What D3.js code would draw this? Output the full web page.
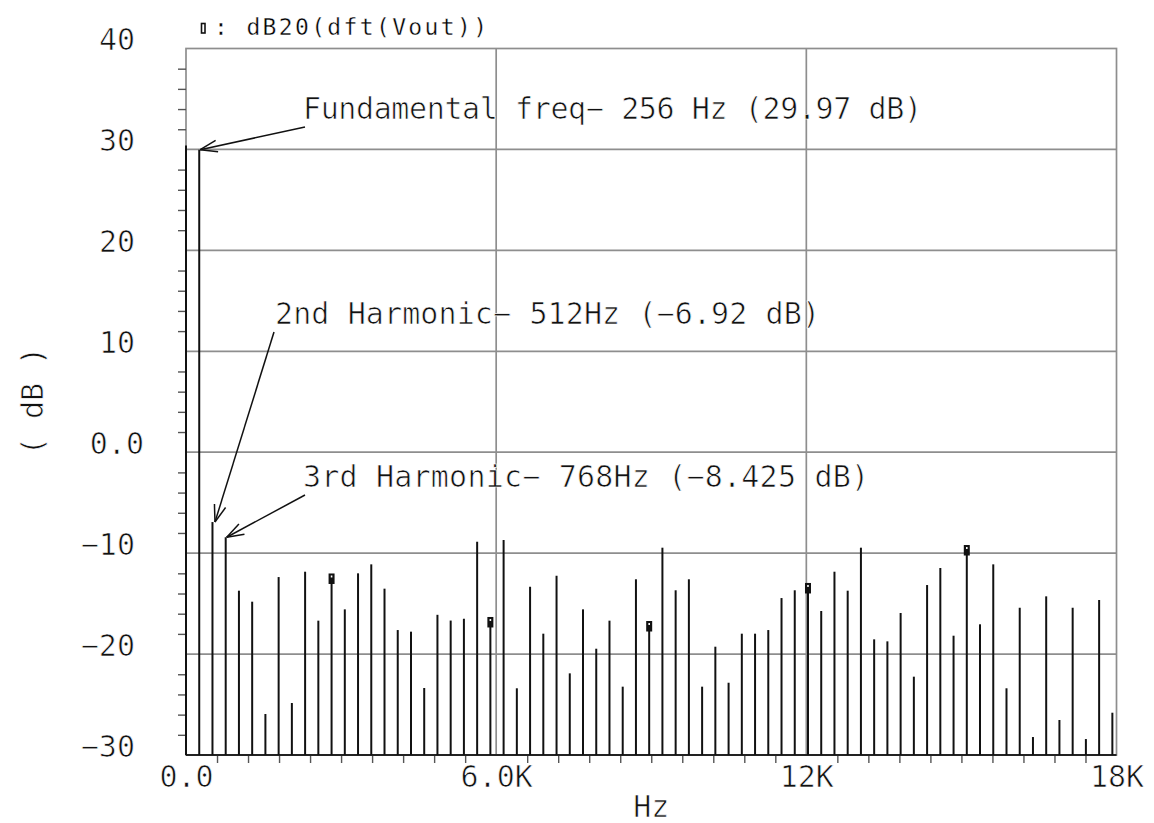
<!DOCTYPE html>
<html>
<head>
<meta charset="utf-8">
<script src="https://cdnjs.cloudflare.com/ajax/libs/d3/7.8.5/d3.min.js"></script>
<style>
  body { margin: 0; background: #fff; }
  svg { display: block; }
  text { font-family: "DejaVu Sans Mono", monospace; fill: #111; stroke: #fff; stroke-width: 0.7px; }
  text.legend { fill: #000; stroke-width: 0.35px; }
</style>
</head>
<body>
<div id="chart"></div>
<script>
// * STEP 1: Data
//==============================================

// spacing of the DFT bins (Hz)
var binStep = 256;

// magnitude of every bin, dB20(dft(Vout)), bin 0 .. bin 70
var magnitudes = [
  30.4, 29.97, -6.92, -8.425, -13.72, -14.81, -25.94, -12.37, -24.85, -11.84,
  -16.69, -12.51, -15.57, -12.0, -11.11, -13.52, -17.62, -17.78, -23.36, -16.11,
  -16.68, -16.5, -8.87, -16.82, -8.7, -23.39, -13.33, -17.98, -12.24, -21.91,
  -15.57, -19.47, -16.69, -23.23, -12.59, -17.22, -9.46, -13.68, -12.59, -23.23,
  -19.27, -22.84, -17.98, -17.98, -17.62, -14.45, -13.68, -13.45, -15.73, -11.84,
  -13.72, -9.46, -18.54, -18.74, -15.93, -22.24, -13.16, -11.47, -18.18, -9.69,
  -17.05, -11.11, -23.39, -15.41, -28.22, -14.28, -26.53, -15.41, -28.42, -14.64,
  -25.81
];

// bins that carry a trace marker
var markerBins = [11, 23, 35, 47, 59];

// axis ticks
var yTicks = [-30, -20, -10, 0, 10, 20, 30, 40];
var yTickLabels = ["\u221230", "\u221220", "\u221210", "0.0", "10", "20", "30", "40"];
var xTicks = [0, 6000, 12000, 18000];
var xTickLabels = ["0.0", "6.0K", "12K", "18K"];

// annotations
var noteBins = [1, 2, 3];
var noteTexts = [
  "Fundamental freq\u2212 256 Hz (29.97 dB)",
  "2nd Harmonic\u2212 512Hz (\u22126.92 dB)",
  "3rd Harmonic\u2212 768Hz (\u22128.425 dB)"
];

var traceName = "dB20(dft(Vout))";

// * STEP 2: Work area
//==============================================
var svgWidth = 1154;
var svgHeight = 823;

var chartMargin = { top: 48.5, right: 37.5, bottom: 68, left: 186 };
var chartWidth = svgWidth - chartMargin.left - chartMargin.right;
var chartHeight = svgHeight - chartMargin.top - chartMargin.bottom;

var svg = d3.select("#chart")
    .append("svg")
    .attr("width", svgWidth)
    .attr("height", svgHeight);

var chartGroup = svg.append("g")
    .attr("transform", `translate(${chartMargin.left}, ${chartMargin.top})`);

// * STEP 3: Scales
//==============================================
var data = magnitudes.map((m, i) => ({ freq: i * binStep, db: m, bin: i }));

var xScale = d3.scaleLinear()
    .domain([0, 18000])
    .range([0, chartWidth]);

var yScale = d3.scaleLinear()
    .domain([-30, 40])
    .range([chartHeight, 0]);

var gridColor = "#8e8e8e";

// grid lines
chartGroup.append("g")
    .selectAll("line")
    .data(yTicks.slice(1, -1))
    .enter()
    .append("line")
    .attr("x1", 0)
    .attr("x2", chartWidth)
    .attr("y1", d => yScale(d))
    .attr("y2", d => yScale(d))
    .attr("stroke", gridColor)
    .attr("stroke-width", 1.7);

chartGroup.append("g")
    .selectAll("line")
    .data(xTicks.slice(1, -1))
    .enter()
    .append("line")
    .attr("x1", d => xScale(d))
    .attr("x2", d => xScale(d))
    .attr("y1", 0)
    .attr("y2", chartHeight)
    .attr("stroke", gridColor)
    .attr("stroke-width", 1.7);

// frame
chartGroup.append("rect")
    .attr("width", chartWidth)
    .attr("height", chartHeight)
    .attr("fill", "none")
    .attr("stroke", gridColor)
    .attr("stroke-width", 1.7);

// minor ticks (every 2 dB / 600 Hz, skipping the grid values)
var minorY = d3.range(-30, 40.01, 2).filter(d => d % 10 !== 0);
var minorX = d3.range(0, 18000.1, 600).filter(d => d % 6000 !== 0);

var leftMinor = chartGroup.append("g")
    .call(d3.axisLeft(yScale).tickValues(minorY).tickSize(8).tickFormat(""));
leftMinor.select(".domain").remove();
leftMinor.selectAll("line").attr("stroke", "#555").attr("stroke-width", 1.4);

var bottomMinor = chartGroup.append("g")
    .attr("transform", `translate(0, ${chartHeight})`)
    .call(d3.axisBottom(xScale).tickValues(minorX).tickSize(8).tickFormat(""));
bottomMinor.select(".domain").remove();
bottomMinor.selectAll("line").attr("stroke", "#555").attr("stroke-width", 1.4);

// bottom axis line
chartGroup.append("line")
    .attr("x1", 0)
    .attr("x2", chartWidth)
    .attr("y1", chartHeight)
    .attr("y2", chartHeight)
    .attr("stroke", "#222")
    .attr("stroke-width", 2);

// * STEP 4: The spectrum
//==============================================
chartGroup.append("g")
    .selectAll("line")
    .data(data)
    .enter()
    .append("line")
    .attr("x1", d => xScale(d.freq))
    .attr("x2", d => xScale(d.freq))
    .attr("y1", chartHeight)
    .attr("y2", d => yScale(d.db))
    .attr("stroke", "#111")
    .attr("stroke-width", 2);

// markers
var markers = chartGroup.append("g")
    .selectAll("g")
    .data(data.filter(d => markerBins.includes(d.bin)))
    .enter()
    .append("g")
    .attr("transform", d => `translate(${xScale(d.freq)}, ${yScale(d.db)})`);

markers.append("rect")
    .attr("x", -3)
    .attr("y", -5)
    .attr("width", 6)
    .attr("height", 10.5)
    .attr("fill", "#111");

markers.append("rect")
    .attr("x", -0.8)
    .attr("y", -3)
    .attr("width", 1.6)
    .attr("height", 2)
    .attr("fill", "#fff");

// * STEP 5: Axis labels
//==============================================
var leftLabels = chartGroup.append("g")
    .call(d3.axisLeft(yScale).tickValues(yTicks).tickSize(0).tickPadding(51)
        .tickFormat((d, i) => yTickLabels[i]));
leftLabels.select(".domain").remove();
leftLabels.selectAll("text")
    .attr("font-family", null)
    .attr("font-size", 30)
    .attr("fill", null)
    .attr("dy", 1)
    .attr("dx", d => d === 0 ? 9 : 0);

var bottomLabels = chartGroup.append("g")
    .attr("transform", `translate(0, ${chartHeight})`)
    .call(d3.axisBottom(xScale).tickValues(xTicks).tickSize(0)
        .tickFormat((d, i) => xTickLabels[i]));
bottomLabels.select(".domain").remove();
bottomLabels.selectAll("text")
    .attr("font-family", null)
    .attr("font-size", 30)
    .attr("fill", null)
    .attr("y", 32)
    .attr("dy", 0);

// x title
svg.append("text")
    .attr("x", chartMargin.left + chartWidth / 2)
    .attr("y", 817)
    .attr("text-anchor", "middle")
    .attr("font-size", 30)
    .text("Hz");

// y title
svg.append("text")
    .attr("transform", "translate(43, 401) rotate(-90)")
    .attr("text-anchor", "middle")
    .attr("font-size", 30)
    .text("( dB )");

// trace legend
svg.append("rect")
    .attr("x", 201.5)
    .attr("y", 23.5)
    .attr("width", 3.5)
    .attr("height", 9.5)
    .attr("fill", "#fff")
    .attr("stroke", "#111")
    .attr("stroke-width", 1.6);

svg.append("text")
    .attr("class", "legend")
    .attr("x", 214)
    .attr("y", 35)
    .attr("font-size", 23)
    .attr("textLength", 273)
    .attr("lengthAdjust", "spacing")
    .text(": " + traceName);

// * STEP 6: Annotations
//==============================================
// text anchor (left, baseline), text width, arrow start, tip nudge
var notePos = [
  { x: 303, y: 118.5, len: 619, sx: 305, sy: 127, tdx: 1, tdy: 0 },
  { x: 275, y: 323.5, len: 545, sx: 274, sy: 332, tdx: 2.5, tdy: 0 },
  { x: 303, y: 487, len: 566, sx: 305, sy: 495, tdx: 1, tdy: 0 }
];

noteBins.forEach((b, i) => {
    var p = notePos[i];
    var tipX = chartMargin.left + xScale(b * binStep) + p.tdx;
    var tipY = chartMargin.top + yScale(magnitudes[b]) + p.tdy;

    svg.append("text")
        .attr("x", p.x)
        .attr("y", p.y)
        .attr("font-size", 30)
        .attr("textLength", p.len)
        .attr("lengthAdjust", "spacing")
        .text(noteTexts[i]);

    svg.append("line")
        .attr("x1", p.sx)
        .attr("y1", p.sy)
        .attr("x2", tipX)
        .attr("y2", tipY)
        .attr("stroke", "#111")
        .attr("stroke-width", 1.5);

    // open arrow head
    var ang = Math.atan2(p.sy - tipY, p.sx - tipX);
    [-0.33, 0.33].forEach(a => {
        svg.append("line")
            .attr("x1", tipX)
            .attr("y1", tipY)
            .attr("x2", tipX + 18 * Math.cos(ang + a))
            .attr("y2", tipY + 18 * Math.sin(ang + a))
            .attr("stroke", "#111")
            .attr("stroke-width", 1.5);
    });
});
</script>
</body>
</html>
